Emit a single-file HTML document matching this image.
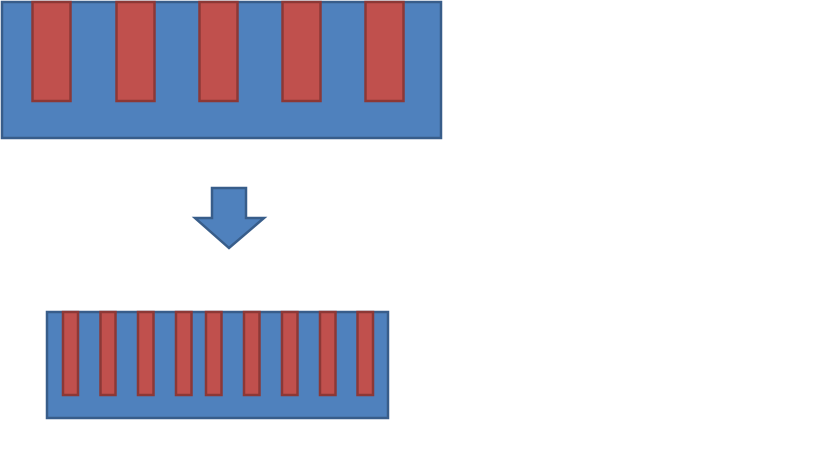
<html><body style="margin:0;background:#fff">
<svg width="819" height="460" xmlns="http://www.w3.org/2000/svg">
<g stroke-width="2.5">
<rect x="2" y="2" width="439" height="136" fill="#4f81bd" stroke="#385d8a"/>
<g fill="#c0504d" stroke="#8c3836">
<rect x="32.5" y="2" width="38" height="99"/>
<rect x="116.5" y="2" width="38" height="99"/>
<rect x="199.5" y="2" width="38" height="99"/>
<rect x="282.5" y="2" width="38" height="99"/>
<rect x="365.5" y="2" width="38" height="99"/>
</g>
<path d="M212,188 H246 V218 H264 L229,248 L195,218 H212 Z" fill="#4f81bd" stroke="#385d8a"/>
<rect x="47" y="312" width="341" height="106" fill="#4f81bd" stroke="#385d8a"/>
<g fill="#c0504d" stroke="#8c3836">
<rect x="63" y="312" width="15" height="83"/>
<rect x="100.5" y="312" width="15" height="83"/>
<rect x="138" y="312" width="15.5" height="83"/>
<rect x="176" y="312" width="15.5" height="83"/>
<rect x="206" y="312" width="15.5" height="83"/>
<rect x="244" y="312" width="15.5" height="83"/>
<rect x="282" y="312" width="15.5" height="83"/>
<rect x="320" y="312" width="15.5" height="83"/>
<rect x="357.5" y="312" width="15.5" height="83"/>
</g>
</g>
</svg>
</body></html>
